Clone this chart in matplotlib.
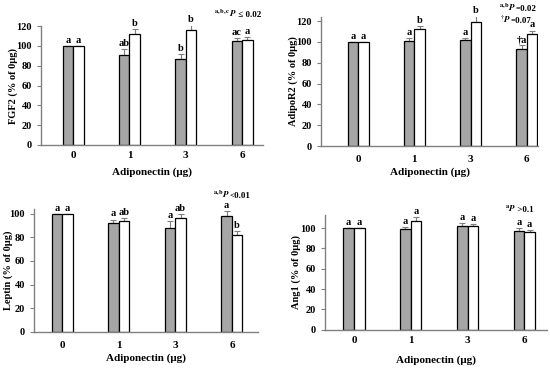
import numpy as np
import matplotlib
matplotlib.use("Agg")
import matplotlib.pyplot as plt

plt.rcParams['font.family'] = ['Liberation Serif', 'DejaVu Serif']
plt.rcParams['font.weight'] = 'bold'
plt.rcParams['mathtext.fontset'] = 'stix'

doses = ['0', '1', '3', '6']

fgf2_gray = [100, 91, 87, 105]
fgf2_white = [100, 112, 116, 106]
fgf2_gray_err = [0, 6, 5, 3]
fgf2_white_err = [0, 5, 5, 3]
fgf2_gray_lbl = ['a', 'ab', 'b', 'ac']
fgf2_white_lbl = ['a', 'b', 'b', 'a']

adipor2_gray = [100, 101, 102, 93]
adipor2_white = [100, 112, 119, 108]
adipor2_gray_err = [0, 3, 2, 4]
adipor2_white_err = [0, 3, 6, 3]
adipor2_gray_lbl = ['a', 'a', 'a', '†a']
adipor2_white_lbl = ['a', 'b', 'b', 'a']

leptin_gray = [100, 92, 88, 98]
leptin_white = [100, 94, 96, 82]
leptin_gray_err = [0, 3, 6, 4]
leptin_white_err = [0, 2, 4, 3]
leptin_gray_lbl = ['a', 'a', 'a', 'a']
leptin_white_lbl = ['a', 'ab', 'ab', 'b']

ang1_gray = [100, 99, 102, 97]
ang1_white = [100, 107, 102, 96]
ang1_gray_err = [0, 2, 3, 3]
ang1_white_err = [0, 4, 2, 2]
ang1_gray_lbl = ['a', 'a', 'a', 'a']
ang1_white_lbl = ['a', 'a', 'a', 'a']

W, H = 550, 368
fig = plt.figure(figsize=(5.5, 3.68), dpi=100)


def panel(px_left, px_right, px_bottom, px_top, ylim, xlim, yticks,
          gray, white, gerr, werr, glbl, wlbl, ylabel, ylabel_x, xpad, xlabel_y):
    ax = fig.add_axes([px_left / W, 1 - px_bottom / H,
                       (px_right - px_left) / W, (px_bottom - px_top) / H])
    x = np.arange(len(doses))
    bw = 0.186
    ax.bar(x - bw / 2, gray, bw, color='#a6a6a6', edgecolor='black', linewidth=0.9, zorder=2)
    ax.bar(x + bw / 2, white, bw, color='white', edgecolor='black', linewidth=0.9, zorder=2)
    z = np.zeros(len(doses))
    ax.errorbar(x - bw / 2, gray, yerr=[z, gerr], fmt='none', ecolor='#7f7f7f',
                elinewidth=0.8, capsize=2, capthick=0.8, zorder=1)
    ax.errorbar(x + bw / 2, white, yerr=[z, werr], fmt='none', ecolor='#7f7f7f',
                elinewidth=0.8, capsize=2, capthick=0.8, zorder=1)
    for i in range(len(doses)):
        ax.text(x[i] - bw / 2, gray[i] + gerr[i] + 1, glbl[i], ha='center', va='bottom',
                fontsize=7.5, fontweight='bold')
        ax.text(x[i] + bw / 2, white[i] + werr[i] + 1, wlbl[i], ha='center', va='bottom',
                fontsize=7.5, fontweight='bold')
    ax.set_xlim(*xlim)
    ax.set_ylim(*ylim)
    ax.set_yticks(yticks)
    ax.set_xticks(x)
    ax.set_xticklabels(doses)
    for s in ['top', 'right']:
        ax.spines[s].set_visible(False)
    for s in ['left', 'bottom']:
        ax.spines[s].set_color('#808080')
        ax.spines[s].set_linewidth(1.0)
    ax.tick_params(axis='y', length=3, color='#808080', labelsize=7.5, pad=3.5)
    ax.tick_params(axis='x', length=0, labelsize=8, pad=xpad)
    hgt = px_bottom - px_top
    ax.set_ylabel(ylabel, fontsize=7.5, fontweight='bold')
    ax.yaxis.set_label_coords((ylabel_x - px_left) / (px_right - px_left), 0.5)
    ax.set_xlabel('Adiponectin (μg)', fontsize=8, fontweight='bold')
    ax.xaxis.set_label_coords(0.5, (px_bottom - xlabel_y) / hgt)
    return ax


panel(41, 263, 145, 26, (0, 120), (-0.57, 3.37), range(0, 121, 20),
      fgf2_gray, fgf2_white, fgf2_gray_err, fgf2_white_err,
      fgf2_gray_lbl, fgf2_white_lbl, 'FGF2 (% of 0μg)', 17.5, 4.3, 167)
panel(321, 538, 146, 17, (0, 124), (-0.66, 3.2), range(0, 121, 20),
      adipor2_gray, adipor2_white, adipor2_gray_err, adipor2_white_err,
      adipor2_gray_lbl, adipor2_white_lbl, 'AdipoR2 (% of 0μg)', 298, 6.5, 167)
panel(34, 258, 331.7, 209, (0, 104), (-0.495, 3.46), range(0, 101, 20),
      leptin_gray, leptin_white, leptin_gray_err, leptin_white_err,
      leptin_gray_lbl, leptin_white_lbl, 'Leptin (% of 0μg)', 13.5, 6.8, 353)
panel(325, 547, 329.7, 215, (0, 113), (-0.51, 3.4), range(0, 101, 20),
      ang1_gray, ang1_white, ang1_gray_err, ang1_white_err,
      ang1_gray_lbl, ang1_white_lbl, 'Ang1 (% of 0μg)', 301, 4.3, 355)

fs = 6.5
renderer = fig.canvas.get_renderer()


def ptext(px, py, sup, rest):
    t = fig.text(px / W, 1 - py / H, r'$^{\mathbf{%s}}\mathbfit{P}$' % sup,
                 fontsize=fs, va='baseline')
    bb = t.get_window_extent(renderer)
    fig.text((bb.x1 - 1) / W, 1 - py / H, rest, fontsize=fs, va='baseline',
             fontweight='bold')


ptext(214, 17, 'a,b,c', ' ≤ 0.02')
ptext(499, 11, 'a,b', '=0.02')
ptext(500, 23, r'\dagger', '=0.07')
ptext(213, 198, 'a,b', '<0.01')
ptext(505, 212, 'a', ' >0.1')

fig.savefig('out.png', dpi=100)
